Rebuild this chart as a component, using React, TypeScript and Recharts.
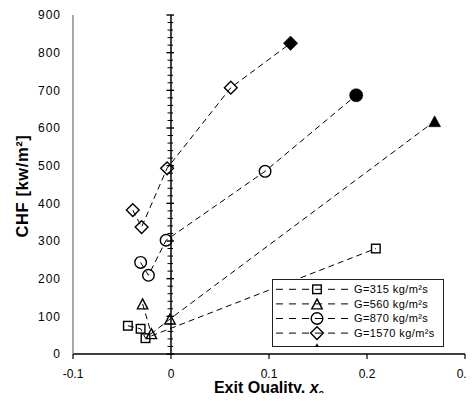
import React from 'react';
import { ScatterChart, Scatter, XAxis, YAxis, ReferenceLine, Legend, Label } from 'recharts';

// Mass fluxes of the four test runs, kg/m²s
const massFluxes = [315, 560, 870, 1570];

// Exit quality and CHF (kW/m²) of each run, open symbols
const g315Quality = [-0.044, -0.031, -0.026, 0.209];
const g315Chf = [75, 67, 42, 280];
const g560Quality = [-0.029, -0.02, -0.001];
const g560Chf = [133, 54, 93];
const g870Quality = [-0.031, -0.023, -0.005, 0.096];
const g870Chf = [243, 209, 302, 485];
const g1570Quality = [-0.039, -0.03, -0.004, 0.061];
const g1570Chf = [382, 337, 493, 707];

// Last point of each run, drawn with a solid symbol (none for G=315)
const solidQuality: (number | null)[] = [null, 0.269, 0.189, 0.122];
const solidChf: (number | null)[] = [null, 618, 687, 825];

const xDomain: [number, number] = [-0.1, 0.3];
const xTicks = [-0.1, 0, 0.1, 0.2, 0.3];
const yDomain: [number, number] = [0, 900];
const yTicks = [0, 100, 200, 300, 400, 500, 600, 700, 800, 900];
const yMinorStep = 20;
const yMajorStep = 100;

type Kind = 'square' | 'triangle' | 'circle' | 'diamond';
const kinds: Kind[] = ['square', 'triangle', 'circle', 'diamond'];

const qualities = [g315Quality, g560Quality, g870Quality, g1570Quality];
const chfs = [g315Chf, g560Chf, g870Chf, g1570Chf];

type Pt = { x: number; y: number; solid: boolean };
const runs = massFluxes.map((g, i) => {
  const pts: Pt[] = qualities[i].map((q, j) => ({ x: q, y: chfs[i][j], solid: false }));
  const sq = solidQuality[i];
  const sc = solidChf[i];
  if (sq !== null && sc !== null) pts.push({ x: sq, y: sc, solid: true });
  return { name: `G=${g} kg/m²s`, kind: kinds[i], data: pts };
});

const FONT = '"Liberation Sans", Arial, sans-serif';

function Marker({ kind, cx, cy, solid }: { kind: Kind; cx: number; cy: number; solid: boolean }) {
  const fill = solid ? '#000' : 'none';
  const sw = 1.4;
  if (kind === 'square') {
    const s = solid ? 5 : 4.3;
    return <rect x={cx - s} y={cy - s} width={2 * s} height={2 * s} fill={fill} stroke="#000" strokeWidth={sw} />;
  }
  if (kind === 'triangle') {
    const w = solid ? 6 : 5.2;
    const h = solid ? 11 : 10;
    return (
      <polygon
        points={`${cx},${cy - h / 2} ${cx + w},${cy + h / 2} ${cx - w},${cy + h / 2}`}
        fill={fill}
        stroke="#000"
        strokeWidth={solid ? 0.5 : sw}
        strokeLinejoin="miter"
      />
    );
  }
  if (kind === 'circle') {
    const r = solid ? 6.6 : 5.8;
    return <circle cx={cx} cy={cy} r={r} fill={fill} stroke="#000" strokeWidth={solid ? 0.5 : sw} />;
  }
  const d = solid ? 7.2 : 6.4;
  return (
    <polygon
      points={`${cx},${cy - d} ${cx + d},${cy} ${cx},${cy + d} ${cx - d},${cy}`}
      fill={fill}
      stroke="#000"
      strokeWidth={solid ? 0.5 : sw}
    />
  );
}

// Vertical axis drawn through x = 0 with cross tick marks
function ZeroAxis(props: any) {
  const { x1, y1, y2 } = props;
  const top = Math.min(y1, y2);
  const bottom = Math.max(y1, y2);
  const [lo, hi] = yDomain;
  const marks = [];
  for (let v = lo; v <= hi; v += yMinorStep) {
    const y = bottom - ((v - lo) / (hi - lo)) * (bottom - top);
    const major = v % yMajorStep === 0;
    marks.push(
      <line
        key={v}
        x1={x1 - (major ? 4.5 : 3.5)}
        x2={x1 + (major ? 3 : 2)}
        y1={y}
        y2={y}
        stroke="#000"
        strokeWidth={major ? 1.4 : 1}
      />
    );
  }
  return (
    <g>
      <line x1={x1} x2={x1} y1={top} y2={bottom} stroke="#000" strokeWidth={1.5} />
      {marks}
    </g>
  );
}

// Legend keeps the run order (315, 560, 870, 1570)
function LegendBox() {
  const rowY = (i: number) => 10.3 + i * 14.6;
  return (
    <svg width={172} height={68} style={{ display: 'block', fontFamily: FONT }}>
      <rect x={0.5} y={0.5} width={171} height={67} fill="#fff" stroke="#222" strokeWidth={1} />
      {runs.map((r, i) => {
        const y = rowY(i);
        return (
          <g key={r.name}>
            <line x1={4} x2={77} y1={y} y2={y} stroke="#000" strokeWidth={1} strokeDasharray="7 6" />
            <Marker kind={r.kind} cx={45} cy={y} solid={false} />
            <text x={82} y={y} dy="0.36em" fontSize={11} letterSpacing={0.4} fill="#000">
              {r.name}
            </text>
          </g>
        );
      })}
      <Marker kind="triangle" cx={45} cy={rowY(4) + 1.5} solid />
    </svg>
  );
}

function XTitle(props: any) {
  const vb = props.viewBox || { x: 0, y: 0, width: 0 };
  return (
    <text
      x={vb.x + vb.width / 2}
      y={vb.y + 39}
      textAnchor="middle"
      fontSize={16}
      fontWeight="bold"
      fill="#000"
      fontFamily={FONT}
    >
      Exit Quality,{' '}
      <tspan fontStyle="italic">x</tspan>
      <tspan fontSize={10} dy={4}>e</tspan>
    </text>
  );
}

function YTitle(props: any) {
  const vb = props.viewBox || { x: 0, y: 0, height: 0 };
  const cx = vb.x + 20.3;
  const cy = vb.y + vb.height / 2 + 1.5;
  return (
    <text
      x={cx}
      y={cy}
      transform={`rotate(-90 ${cx} ${cy})`}
      textAnchor="middle"
      fontSize={16.5}
      fontWeight="bold"
      letterSpacing={0.6}
      fill="#000"
      fontFamily={FONT}
    >
      CHF [kw/m²]
    </text>
  );
}

export default function App() {
  return (
    <div style={{ height: 385 }}>
      <ScatterChart
        width={467}
        height={393}
        margin={{ top: 7, right: 10, bottom: 0, left: 0 }}
        style={{ fontFamily: FONT }}
      >
        <XAxis
          xAxisId="b"
          type="number"
          dataKey="x"
          domain={xDomain}
          ticks={xTicks}
          interval={0}
          allowDataOverflow
          axisLine={{ stroke: '#000', strokeWidth: 1.5 }}
          tickLine={{ stroke: '#000', strokeWidth: 1.2 }}
          tickSize={5}
          tickMargin={10}
          tick={{ fill: '#000', fontSize: 12 }}
          tickFormatter={(v: number) => String(v)}
          height={47}
        >
          <Label content={XTitle} />
        </XAxis>
        <XAxis
          xAxisId="t"
          orientation="top"
          type="number"
          domain={xDomain}
          allowDataOverflow
          tick={false}
          tickLine={false}
          axisLine={{ stroke: '#8c8c8c', strokeWidth: 1.5 }}
          height={0}
        />
        <YAxis
          yAxisId="l"
          type="number"
          dataKey="y"
          domain={yDomain}
          ticks={yTicks}
          interval={0}
          allowDataOverflow
          axisLine={{ stroke: '#8c8c8c', strokeWidth: 1.5 }}
          tickLine={false}
          tickSize={0}
          tickMargin={12}
          tick={{ fill: '#000', fontSize: 12, letterSpacing: 1 }}
          width={65}
        >
          <Label content={YTitle} />
        </YAxis>
        <YAxis
          yAxisId="r"
          orientation="right"
          type="number"
          domain={yDomain}
          allowDataOverflow
          tick={false}
          tickLine={false}
          axisLine={{ stroke: '#8c8c8c', strokeWidth: 1.5 }}
          width={0}
        />
        <ReferenceLine xAxisId="b" yAxisId="l" x={0} shape={ZeroAxis} />
        {runs.map((r) => (
          <Scatter
            key={r.name}
            name={r.name}
            xAxisId="b"
            yAxisId="l"
            data={r.data}
            fill="#000"
            line={{ stroke: '#000', strokeWidth: 1, strokeDasharray: '6 4' }}
            lineType="joint"
            isAnimationActive={false}
            shape={(p: any) => <Marker kind={r.kind} cx={p.cx} cy={p.cy} solid={!!(p.payload && p.payload.solid)} />}
          />
        ))}
        <Legend
          layout="vertical"
          align="center"
          verticalAlign="middle"
          content={LegendBox}
          wrapperStyle={{ position: 'absolute', left: 264.3, top: 271, width: 172, height: 68 }}
        />
      </ScatterChart>
    </div>
  );
}
